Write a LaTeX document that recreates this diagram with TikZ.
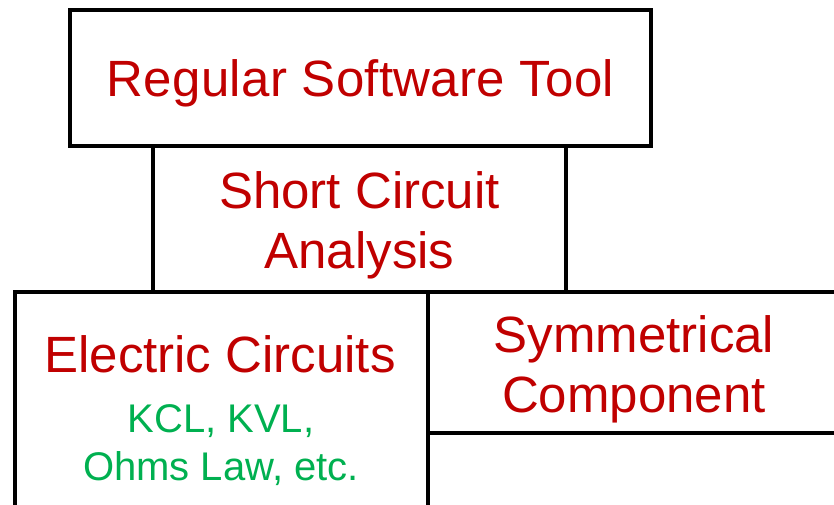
\documentclass[tikz,border=0pt]{standalone}
\usepackage{fontspec}
\setmainfont{Liberation Sans}
\definecolor{titlered}{HTML}{C00000}
\definecolor{notegreen}{HTML}{00B050}
\begin{document}
\begin{tikzpicture}[x=1pt,y=1pt,
  block/.style={draw=black, line width=4.5pt, fill=none, rectangle, inner sep=0pt},
  title/.style={anchor=base, inner sep=0pt, text=titlered, font=\fontsize{51}{61}\selectfont},
  note/.style={anchor=base, inner sep=0pt, text=notegreen, font=\fontsize{40}{48}\selectfont}]
  \useasboundingbox (0,0) rectangle (834,505);
  % stacked blocks
  \node[block, minimum width=581pt, minimum height=136pt] (tool) at (360.5,427) {};
  \node[block, minimum width=413pt, minimum height=146pt] (sc) at (359.5,286) {};
  \node[block, minimum width=413pt, minimum height=228pt] (ec) at (221.5,99) {};
  \node[block, minimum width=417pt, minimum height=141pt] (sym) at (636.5,142.5) {};
  % labels
  \node[title] (toolA) at (360.5,408) {\addfontfeature{LetterSpace=0.6}Regular Software Tool};
  \node[title] (scA) at (359.5,296) {Short Circuit};
  \node[title] (scB) at (359.5,236) {Analysis};
  \node[title] (ecA) at (220,132) {Electric Circuits};
  \node[note] (ecB) at (221,72) {KCL, KVL,};
  \node[note] (ecC) at (221,24) {Ohms Law, etc.};
  \node[title] (symA) at (634,152) {Symmetrical};
  \node[title] (symB) at (634,92) {Component};
\end{tikzpicture}
\end{document}
